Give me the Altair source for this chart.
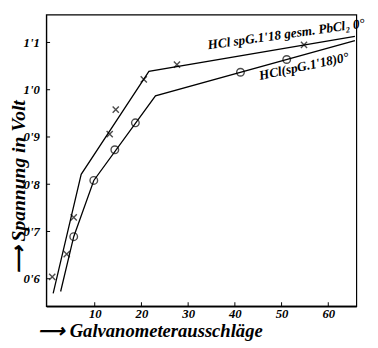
import altair as alt
import pandas as pd

# Series 1: HCl spG.1'18 gesm. PbCl2 0°  (crosses)
s1_line_x = [1.1, 7.1, 21.6, 65.7]
s1_line_y = [0.569, 0.821, 1.039, 1.113]
s1_pts_x = [0.9, 4.0, 5.5, 13.2, 14.5, 20.5, 27.6, 54.8]
s1_pts_y = [0.604, 0.652, 0.730, 0.906, 0.958, 1.022, 1.053, 1.095]

# Series 2: HCl (spG.1'18) 0°  (circles)
s2_line_x = [2.7, 5.5, 9.8, 23.0, 65.7]
s2_line_y = [0.573, 0.689, 0.808, 0.987, 1.104]
s2_pts_x = [5.5, 9.8, 14.3, 18.7, 41.2, 51.1]
s2_pts_y = [0.689, 0.808, 0.873, 0.930, 1.037, 1.064]

x_ticks = [10, 20, 30, 40, 50, 60]
y_ticks = [0.6, 0.7, 0.8, 0.9, 1.0, 1.1]

labels = ["HCl spG.1'18 gesm. PbCl\u2082 0\u00b0", "HCl(spG.1'18)0\u00b0"]
label_x = [51.0, 54.8]
label_y = [1.117, 1.049]
label_angle = [352, 348]

W, H = 317, 298
FONT = "Liberation Serif"
XMARK = "M -1 -1 L 1 1 M -1 1 L 1 -1"

line1 = pd.DataFrame({"x": s1_line_x, "y": s1_line_y, "o": range(len(s1_line_x))})
line2 = pd.DataFrame({"x": s2_line_x, "y": s2_line_y, "o": range(len(s2_line_x))})
pts1 = pd.DataFrame({"x": s1_pts_x, "y": s1_pts_y})
pts2 = pd.DataFrame({"x": s2_pts_x, "y": s2_pts_y})
lab = pd.DataFrame({"x": label_x, "y": label_y, "t": labels, "a": label_angle})
xt = pd.DataFrame({"v": x_ticks})
yt = pd.DataFrame({"v": y_ticks})

xs = alt.Scale(domain=[-0.4, 66], nice=False, zero=False)
ys = alt.Scale(domain=[0.542, 1.159], nice=False, zero=False)

xax = alt.Axis(values=x_ticks, ticks=False, grid=False, labelPadding=2,
               labelFont=FONT, labelFontSize=13, labelFontStyle="italic",
               labelFontWeight="bold", labelColor="black",
               domainColor="black", domainWidth=1.8,
               title="\u27f6 Galvanometerausschläge", titleFont=FONT,
               titleFontSize=19, titleFontStyle="italic", titleFontWeight="bold",
               titleColor="black", titleX=106, titleY=25, titleAlign="center",
               titleBaseline="middle")
yax = alt.Axis(values=y_ticks, ticks=False, grid=False, labelPadding=7,
               labelExpr="replace(format(datum.value, '.1f'), '.', \"'\")",
               labelFont=FONT, labelFontSize=13, labelFontStyle="italic",
               labelFontWeight="bold", labelColor="black",
               domainColor="black", domainWidth=1.2,
               title="\u27f6 Spannung in Volt", titleFont=FONT,
               titleFontSize=20, titleFontStyle="italic", titleFontWeight="bold",
               titleColor="black", titleX=-28, titleY=176, titleAlign="center",
               titleBaseline="middle", titleAngle=270)

base_x = alt.X("x:Q", scale=xs, axis=xax)
base_y = alt.Y("y:Q", scale=ys, axis=yax)

l1 = alt.Chart(line1).mark_line(color="black", strokeWidth=1.3).encode(
    x=base_x, y=base_y, order="o:Q")
l2 = alt.Chart(line2).mark_line(color="black", strokeWidth=1.3).encode(
    x="x:Q", y="y:Q", order="o:Q")
p1 = alt.Chart(pts1).mark_point(shape=XMARK, size=40, filled=False,
                                color="black", strokeWidth=1.4).encode(x="x:Q", y="y:Q")
p2 = alt.Chart(pts2).mark_point(shape="circle", size=60, filled=False,
                                color="black", strokeWidth=1.4).encode(x="x:Q", y="y:Q")
txt = alt.Chart(lab).mark_text(font=FONT, fontSize=13.5, fontStyle="italic",
                               fontWeight="bold", color="black").encode(
    x="x:Q", y="y:Q", text="t:N", angle=alt.Angle("a:Q", scale=None))
ytk = alt.Chart(yt).mark_rule(color="black", strokeWidth=1).encode(
    y=alt.Y("v:Q", scale=ys), x=alt.value(0), x2=alt.value(4))
xtk = alt.Chart(xt).mark_rule(color="black", strokeWidth=1).encode(
    x=alt.X("v:Q", scale=xs), y=alt.value(H), y2=alt.value(H - 4))

chart = alt.layer(l1, l2, p1, p2, txt, ytk, xtk).properties(
    width=W, height=H,
    autosize=alt.AutoSizeParams(type="none"),
    padding={"left": 39, "top": 3, "right": 14, "bottom": 38},
    background="white",
).configure_view(stroke="black", strokeWidth=1.2)

chart.save("out.html", embed_options={"renderer": "svg", "actions": False})
